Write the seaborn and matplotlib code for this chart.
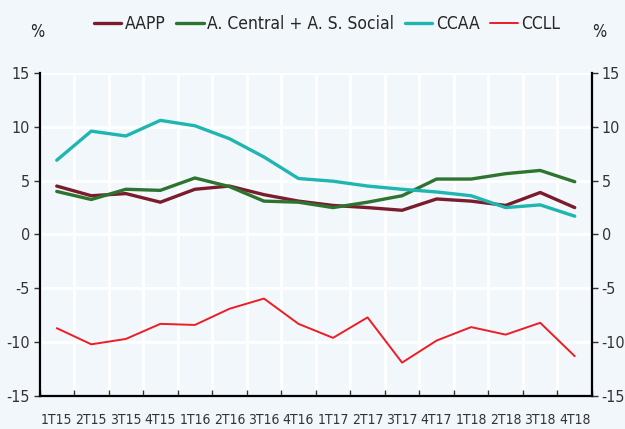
import numpy as np
import pandas as pd
import matplotlib
matplotlib.use("Agg")
import matplotlib.pyplot as plt
import seaborn as sns

# Datos (variación interanual, %)
quarters = ["1T15", "2T15", "3T15", "4T15", "1T16", "2T16", "3T16", "4T16",
            "1T17", "2T17", "3T17", "4T17", "1T18", "2T18", "3T18", "4T18"]
aapp = [4.5, 3.6, 3.8, 3.0, 4.2, 4.5, 3.7, 3.1, 2.7, 2.5, 2.25, 3.3, 3.1, 2.7, 3.9, 2.5]
central_ss = [4.0, 3.25, 4.2, 4.1, 5.25, 4.45, 3.1, 3.0, 2.5, 3.0, 3.6, 5.15, 5.15, 5.65, 5.95, 4.9]
ccaa = [6.9, 9.6, 9.15, 10.6, 10.1, 8.9, 7.2, 5.2, 4.95, 4.5, 4.2, 3.95, 3.6, 2.5, 2.75, 1.7]
ccll = [-8.7, -10.2, -9.7, -8.3, -8.4, -6.9, -5.95, -8.3, -9.6, -7.7, -11.9, -9.85, -8.6, -9.3, -8.2, -11.3]

series_names = ["AAPP", "A. Central + A. S. Social", "CCAA", "CCLL"]
colors = ["#7b1c2c", "#2e7431", "#1fb5b0", "#ee1c25"]
widths = [2.4, 2.4, 2.4, 1.4]

bg = "#f2f7fb"
sns.set_theme(style="white")
plt.rcParams["font.family"] = ["DejaVu Sans"]
plt.rcParams["font.stretch"] = "condensed"

df = pd.DataFrame({
    "x": np.tile(np.arange(len(quarters)), 4),
    "valor": aapp + central_ss + ccaa + ccll,
    "serie": np.repeat(series_names, len(quarters)),
})

fig = plt.figure(figsize=(6.25, 4.29), dpi=100, facecolor=bg)
ax = fig.add_axes([39.5 / 625, 33 / 429, (592 - 39.5) / 625, (396 - 73) / 429])
ax.set_facecolor(bg)

for name, c, lw in zip(series_names, colors, widths):
    sns.lineplot(data=df[df["serie"] == name], x="x", y="valor", color=c,
                 linewidth=lw, label=name, ax=ax)

ax.set_xlim(-0.5, len(quarters) - 0.5)
ax.set_ylim(-15, 15)
ax.set_yticks(np.arange(-15, 16, 5))
ax.set_yticklabels([str(v) for v in range(-15, 16, 5)])
ax.set_xticks(np.arange(len(quarters)))
ax.set_xticklabels(quarters)
ax.set_xticks(np.arange(len(quarters) + 1) - 0.5, minor=True)
ax.set_xlabel("")
ax.set_ylabel("")

ax.grid(False)
ax.yaxis.grid(True, color="white", linewidth=2)
ax.xaxis.grid(True, which="minor", color="white", linewidth=2)
ax.set_axisbelow(True)

for s in ["left", "right", "bottom"]:
    ax.spines[s].set_visible(True)
    ax.spines[s].set_color("black")
    ax.spines[s].set_linewidth(1.6)
ax.spines["top"].set_visible(False)

ax.tick_params(axis="y", which="major", left=True, right=True, labelleft=True,
               labelright=True, direction="out", length=4, width=1,
               color="#333333", labelsize=11.5, labelcolor="#333333", pad=3)
ax.tick_params(axis="x", which="major", bottom=False, labelsize=10,
               labelcolor="#333333", pad=6)
ax.tick_params(axis="x", which="minor", bottom=True, direction="in",
               length=4, width=1, color="#333333")

fig.text(37 / 625, 1 - 32 / 429, "%", fontsize=12, ha="center", va="center", color="#222222")
fig.text(599 / 625, 1 - 32 / 429, "%", fontsize=12, ha="center", va="center", color="#222222")

ax.legend(loc="center", bbox_to_anchor=(327 / 625, 1 - 24 / 429),
          bbox_transform=fig.transFigure, ncol=4, frameon=False,
          fontsize=12.5, handlelength=1.6, handletextpad=0.2, columnspacing=0.6)

fig.savefig("out.png", dpi=100, facecolor=bg)
